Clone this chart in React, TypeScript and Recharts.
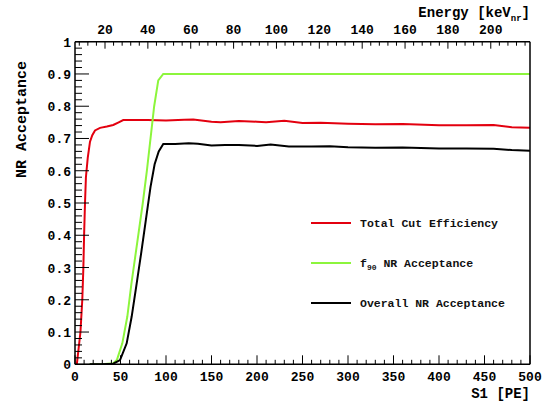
import { LineChart, Line, XAxis, YAxis } from 'recharts';

// Total cut efficiency (red)
const cutS1 = [2, 6, 8, 9.2, 10, 11, 12, 14, 16.5, 19, 22, 27.5, 35, 42, 48, 53, 60, 80, 100, 120, 130, 150, 160, 180, 200, 210, 230, 250, 270, 300, 330, 360, 400, 430, 460, 480, 500];
const cutEff = [0, 0.1, 0.2, 0.3, 0.4, 0.5, 0.58, 0.64, 0.69, 0.71, 0.725, 0.733, 0.737, 0.742, 0.75, 0.757, 0.757, 0.757, 0.756, 0.758, 0.759, 0.752, 0.75, 0.754, 0.752, 0.75, 0.755, 0.748, 0.749, 0.746, 0.744, 0.745, 0.741, 0.741, 0.742, 0.735, 0.733];

// f90 NR acceptance (green)
const f90S1 = [16, 30, 42, 46, 52, 57.5, 62, 66, 70, 74.5, 79, 83, 87, 91.5, 97, 200, 300, 400, 500];
const f90Acc = [0, 0, 0.003, 0.013, 0.065, 0.148, 0.25, 0.33, 0.41, 0.5, 0.6, 0.7, 0.8, 0.88, 0.9, 0.9, 0.9, 0.9, 0.9];

// overall NR acceptance (black)
const overallS1 = [16, 30, 42, 49.5, 56.8, 62.3, 67.8, 73, 78, 83, 87.5, 92, 97, 110, 125, 135, 150, 165, 180, 200, 215, 235, 260, 280, 300, 330, 360, 400, 430, 460, 480, 500];
const overallAcc = [0, 0, 0.002, 0.013, 0.065, 0.148, 0.251, 0.35, 0.45, 0.55, 0.62, 0.66, 0.683, 0.683, 0.685, 0.684, 0.678, 0.68, 0.68, 0.677, 0.681, 0.675, 0.675, 0.676, 0.673, 0.671, 0.672, 0.669, 0.669, 0.668, 0.664, 0.662];

// axis ticks
const s1Range = [0, 500];
const accRange = [0, 1];
const s1Labels = [0, 50, 100, 150, 200, 250, 300, 350, 400, 450, 500];
const accLabels = [0, 0.1, 0.2, 0.3, 0.4, 0.5, 0.6, 0.7, 0.8, 0.9, 1];
const energyLabels = [20, 40, 60, 80, 100, 120, 140, 160, 180, 200];
const energyRange = [6, 218.3]; // keVnr at S1 = 0 and S1 = 500

const s1Ticks = Array.from({ length: 51 }, (_, i) => i * 10);
const accTicks = Array.from({ length: 51 }, (_, i) => Math.round(i * 2) / 100);
const energyTicks = Array.from({ length: 53 }, (_, i) => 8 + i * 4);

const cutData = cutS1.map((s1, i) => ({ s1, value: cutEff[i] }));
const f90Data = f90S1.map((s1, i) => ({ s1, value: f90Acc[i] }));
const overallData = overallS1.map((s1, i) => ({ s1, value: overallAcc[i] }));
// empty series, only there so the energy axis and the right frame axis get a scale
const energyData = energyRange.map(energy => ({ energy, value: null }));

const W = 546;
const H = 407;
const PLOT = { left: 75, top: 41.7, width: 455, height: 322.6 };

const FONT = '"Liberation Mono", "DejaVu Sans Mono", monospace';
const FRAME = { stroke: '#000', strokeWidth: 1.5 };

const isMajor = (v: number, list: number[]) => list.some(m => Math.abs(m - v) < 1e-6);
const lerp = (v: number, [a, b]: number[], start: number, size: number) => start + ((v - a) / (b - a)) * size;

const BottomTick = ({ x, y, payload }: any) =>
  isMajor(payload.value, s1Labels) ? (
    <text x={x} y={y + 17} textAnchor="middle" fontFamily={FONT} fontWeight="bold" fontSize={13} fill="#000">
      {payload.value}
    </text>
  ) : null;

const TopTick = ({ x, y, payload }: any) =>
  isMajor(payload.value, energyLabels) ? (
    <text x={x} y={y - 8} textAnchor="middle" fontFamily={FONT} fontWeight="bold" fontSize={13} fill="#000">
      {payload.value}
    </text>
  ) : null;

const LeftTick = ({ x, y, payload }: any) => {
  const v = payload.value;
  if (!isMajor(v, accLabels)) return null;
  const label = v === 0 ? '0' : v === 1 ? '1' : v.toFixed(1);
  return (
    <text x={x - 4} y={y + 5} textAnchor="end" fontFamily={FONT} fontWeight="bold" fontSize={13} fill="#000">
      {label}
    </text>
  );
};

// ROOT style tick marks pointing into the frame, on a layer over the chart
const TickMarks = () => {
  const bottom = PLOT.top + PLOT.height;
  return (
    <svg width={W} height={H} style={{ position: 'absolute', left: 0, top: 0, pointerEvents: 'none' }}>
      {s1Ticks.map(v => {
        const px = lerp(v, s1Range, PLOT.left, PLOT.width);
        return <line key={'b' + v} x1={px} x2={px} y1={bottom} y2={bottom - (isMajor(v, s1Labels) ? 9 : 4.5)} stroke="#000" strokeWidth={1} />;
      })}
      {energyTicks.map(e => {
        const px = lerp(e, energyRange, PLOT.left, PLOT.width);
        return <line key={'t' + e} x1={px} x2={px} y1={PLOT.top} y2={PLOT.top + (isMajor(e, energyLabels) ? 7 : 4)} stroke="#000" strokeWidth={1} />;
      })}
      {accTicks.map(v => {
        const py = lerp(v, accRange, bottom, -PLOT.height);
        return <line key={'l' + v} x1={PLOT.left} x2={PLOT.left + (isMajor(v, accLabels) ? 14 : 7)} y1={py} y2={py} stroke="#000" strokeWidth={1} />;
      })}
    </svg>
  );
};

const legendItems = [
  { color: '#e3000f', label: <>Total Cut Efficiency</> },
  { color: '#8cf53c', label: <>f<tspan dy={3} fontSize={8}>90</tspan><tspan dy={-3}> NR Acceptance</tspan></> },
  { color: '#000000', label: <>Overall NR Acceptance</> },
];

// legend drawn inside the plot, like the ROOT TLegend
const LegendBox = () => (
  <g>
    {legendItems.map((it, i) => (
      <g key={i}>
        <line x1={311} x2={351} y1={223 + i * 40} y2={223 + i * 40} stroke={it.color} strokeWidth={2} />
        <text x={360} y={227 + i * 40} fontFamily={FONT} fontWeight="bold" fontSize={11.5} fill="#111">
          {it.label}
        </text>
      </g>
    ))}
  </g>
);

export default function App() {
  return (
    <div style={{ position: 'absolute', left: 0, top: 0, width: W, height: H, background: '#fff' }}>
      <LineChart width={W} height={H} margin={{ top: 0, right: 0, bottom: 0, left: 0 }}>
        <XAxis
          dataKey="s1"
          type="number"
          domain={s1Range}
          allowDataOverflow
          ticks={s1Ticks}
          interval={0}
          height={H - PLOT.top - PLOT.height}
          axisLine={FRAME}
          tickLine={false}
          tickSize={0}
          tickMargin={0}
          tick={<BottomTick />}
          label={{
            content: () => (
              <text x={PLOT.left + PLOT.width} y={398} textAnchor="end" fontFamily={FONT} fontWeight="bold" fontSize={14} fill="#000">
                S1 [PE]
              </text>
            ),
          }}
        />
        <XAxis
          xAxisId="top"
          dataKey="energy"
          orientation="top"
          type="number"
          domain={energyRange}
          allowDataOverflow
          ticks={energyTicks}
          interval={0}
          height={PLOT.top}
          axisLine={FRAME}
          tickLine={false}
          tickSize={0}
          tickMargin={0}
          tick={<TopTick />}
          label={{
            content: () => (
              <text x={PLOT.left + PLOT.width} y={17} textAnchor="end" fontFamily={FONT} fontWeight="bold" fontSize={14} fill="#000">
                Energy [keV<tspan dy={4} fontSize={9}>nr</tspan><tspan dy={-4}>]</tspan>
              </text>
            ),
          }}
        />
        <YAxis
          type="number"
          domain={accRange}
          allowDataOverflow
          ticks={accTicks}
          interval={0}
          width={PLOT.left}
          axisLine={FRAME}
          tickLine={false}
          tickSize={0}
          tickMargin={0}
          tick={<LeftTick />}
          label={{
            content: () => (
              <text x={26} y={61} transform="rotate(-90, 26, 61)" textAnchor="end" fontFamily={FONT} fontWeight="bold" fontSize={15} fill="#000">
                NR Acceptance
              </text>
            ),
          }}
        />
        <YAxis
          yAxisId="right"
          orientation="right"
          type="number"
          domain={accRange}
          width={W - PLOT.left - PLOT.width}
          axisLine={FRAME}
          tickLine={false}
          tick={false}
          label={{ content: () => <LegendBox /> }}
        />
        <Line xAxisId="top" yAxisId="right" data={energyData} dataKey="value" stroke="none" dot={false} legendType="none" isAnimationActive={false} />
        <Line data={cutData} dataKey="value" type="linear" stroke="#e3000f" strokeWidth={2} dot={false} isAnimationActive={false} />
        <Line data={f90Data} dataKey="value" type="linear" stroke="#8cf53c" strokeWidth={2} dot={false} isAnimationActive={false} />
        <Line data={overallData} dataKey="value" type="linear" stroke="#000000" strokeWidth={2} dot={false} isAnimationActive={false} />
      </LineChart>
      <TickMarks />
    </div>
  );
}
